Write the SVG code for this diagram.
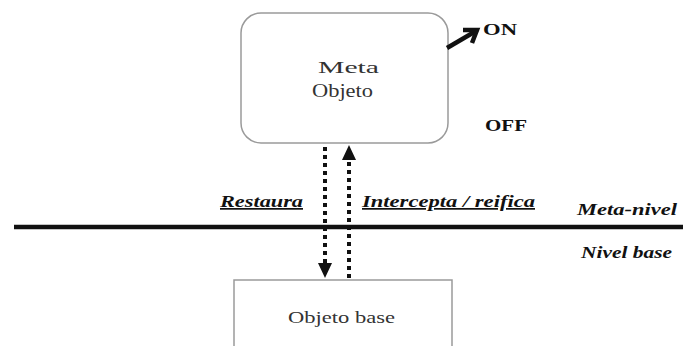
<svg xmlns="http://www.w3.org/2000/svg" width="683" height="346" viewBox="0 0 683 346">
  <style>
    .box { fill: #ffffff; stroke: #9a9a9a; stroke-width: 1.5; }
    text { font-family: "Liberation Serif", "DejaVu Serif", "Times New Roman", serif; }
    .lbl { font-size: 17px; fill: #333; }
    .bold { font-size: 17px; font-weight: bold; fill: #111; }
    .it { font-size: 17px; font-weight: bold; font-style: italic; fill: #111; }
    .dots { stroke: #111; stroke-width: 4; stroke-dasharray: 4 4; fill: none; }
  </style>
  <rect width="683" height="346" fill="#ffffff"/>

  <g id="meta-objeto">
    <rect class="box" x="241" y="13" width="207" height="130" rx="20" ry="20"/>
    <text class="lbl" x="318" y="73" textLength="61" lengthAdjust="spacingAndGlyphs">Meta</text>
    <text class="lbl" x="312" y="97" textLength="61" lengthAdjust="spacingAndGlyphs" style="font-size:19px">Objeto</text>
  </g>

  <g id="switch">
    <path d="M447,48 L476,31" stroke="#111" stroke-width="4.5" fill="none"/>
    <path d="M463,30 L477,30 L472,43" stroke="#111" stroke-width="4.5" fill="none"/>
    <text class="bold" x="483" y="35" textLength="34" lengthAdjust="spacingAndGlyphs">ON</text>
    <text class="bold" x="485" y="131" textLength="42" lengthAdjust="spacingAndGlyphs">OFF</text>
  </g>

  <g id="objeto-base">
    <rect class="box" x="234" y="280" width="218" height="80"/>
    <text class="lbl" x="288" y="323" textLength="107" lengthAdjust="spacingAndGlyphs">Objeto base</text>
  </g>

  <g id="niveles">
    <line x1="14" y1="227" x2="683" y2="227" stroke="#111" stroke-width="4.5"/>
    <text class="it" x="577" y="215" textLength="100" lengthAdjust="spacingAndGlyphs">Meta-nivel</text>
    <text class="it" x="581" y="258" textLength="91" lengthAdjust="spacingAndGlyphs">Nivel base</text>
  </g>

  <g id="connectors">
    <line class="dots" x1="325" y1="147" x2="325" y2="266"/>
    <path d="M318,263 L332,263 L325,278 z" fill="#111"/>
    <line class="dots" x1="349" y1="162" x2="349" y2="280"/>
    <path d="M342,160 L356,160 L349,145 z" fill="#111"/>
    <text class="it" x="220" y="207" textLength="83" lengthAdjust="spacingAndGlyphs" text-decoration="underline">Restaura</text>
    <text class="it" x="362" y="207" textLength="173" lengthAdjust="spacingAndGlyphs" text-decoration="underline">Intercepta / reifica</text>
  </g>
</svg>
